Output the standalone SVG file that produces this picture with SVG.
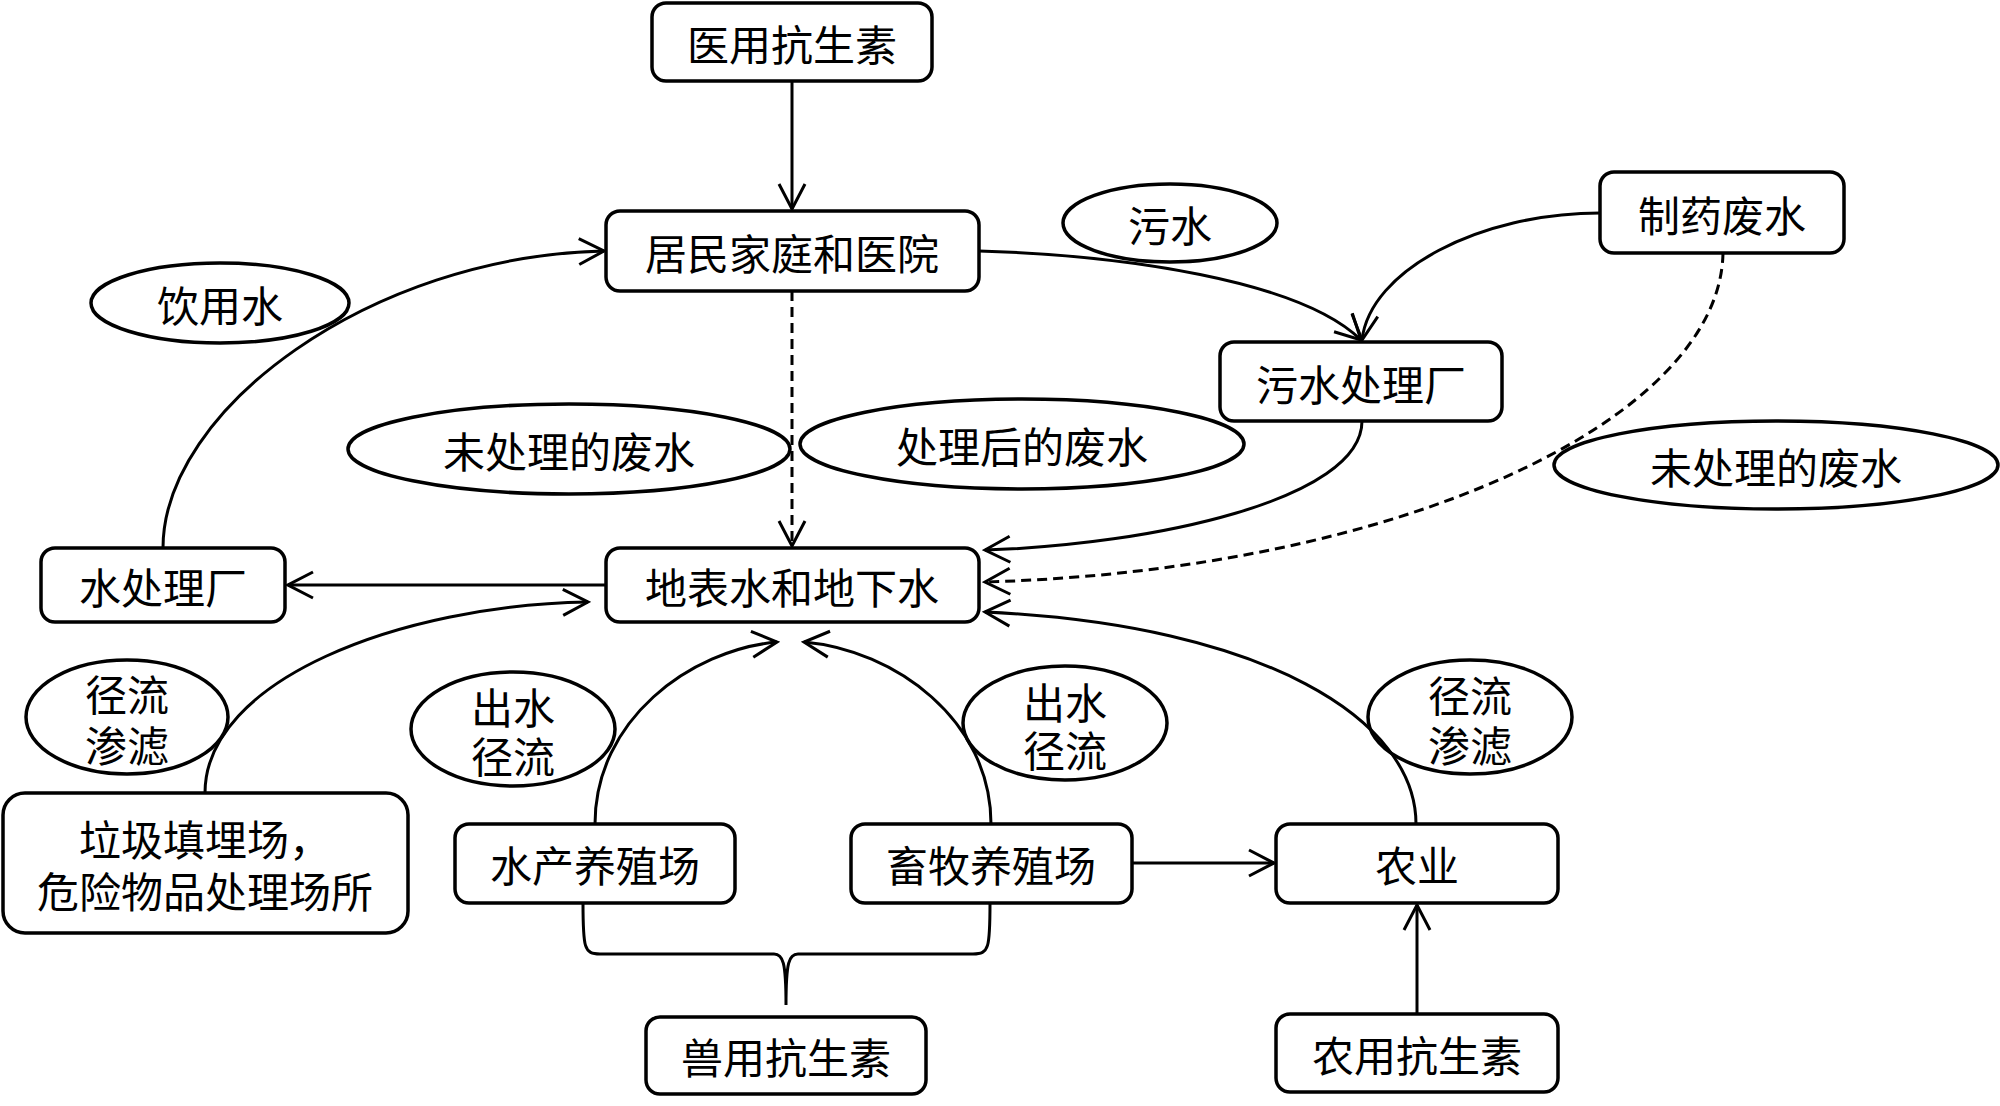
<svg xmlns="http://www.w3.org/2000/svg" width="2000" height="1106" viewBox="0 0 2000 1106">
<style>
.box{fill:#fff;stroke:#000;stroke-width:3.5}
.ell{fill:#fff;stroke:#000;stroke-width:3.5}
.t{font-family:"Noto Sans CJK SC","Noto Sans CJK JP",sans-serif;font-size:42px;fill:#000;text-anchor:middle;dominant-baseline:central}
.c{fill:none;stroke:#000;stroke-width:3}
.d{fill:none;stroke:#000;stroke-width:3;stroke-dasharray:10 6}
</style>
<defs>
<marker id="a" markerUnits="userSpaceOnUse" markerWidth="32" markerHeight="32" viewBox="0 0 32 32" refX="29" refY="16" orient="auto">
<path d="M4,3 L29,16 L4,29" fill="none" stroke="#000" stroke-width="3"/>
</marker>
</defs>
<rect width="2000" height="1106" fill="#fff"/>
<g id="labels">
<g id="lbl-drink"><ellipse class="ell" cx="220" cy="303" rx="129" ry="40"/><text class="t" x="220" y="303">饮用水</text></g>
<g id="lbl-untreated-left"><ellipse class="ell" cx="569" cy="449" rx="221" ry="45"/><text class="t" x="569" y="449">未处理的废水</text></g>
<g id="lbl-treated"><ellipse class="ell" cx="1022" cy="444" rx="222" ry="45"/><text class="t" x="1022" y="444">处理后的废水</text></g>
<g id="lbl-sewage"><ellipse class="ell" cx="1170" cy="223" rx="107" ry="39"/><text class="t" x="1170" y="223">污水</text></g>
<g id="lbl-untreated-right"><ellipse class="ell" cx="1776" cy="465" rx="222" ry="44"/><text class="t" x="1776" y="465">未处理的废水</text></g>
<g id="lbl-runoff-left"><ellipse class="ell" cx="127" cy="717" rx="101" ry="57"/><text class="t"><tspan x="127" y="692">径流</tspan><tspan x="127" y="743">渗滤</tspan></text></g>
<g id="lbl-outflow-left"><ellipse class="ell" cx="513" cy="729" rx="102" ry="57"/><text class="t"><tspan x="513" y="705">出水</tspan><tspan x="513" y="754">径流</tspan></text></g>
<g id="lbl-outflow-right"><ellipse class="ell" cx="1065" cy="723" rx="102" ry="57"/><text class="t"><tspan x="1065" y="700">出水</tspan><tspan x="1065" y="748">径流</tspan></text></g>
<g id="lbl-runoff-right"><ellipse class="ell" cx="1470" cy="717" rx="102" ry="57"/><text class="t"><tspan x="1470" y="693">径流</tspan><tspan x="1470" y="743">渗滤</tspan></text></g>
</g>
<g id="connectors">
<path class="c" d="M792,81 L792,209" marker-end="url(#a)"/>
<path class="d" d="M792,291 L792,546" marker-end="url(#a)"/>
<path class="c" d="M606,585 L288,585" marker-end="url(#a)"/>
<path class="c" d="M163,548 C163,410 370,256 604,251" marker-end="url(#a)"/>
<path class="c" d="M979,251 C1120,255 1300,280 1361,340" marker-end="url(#a)"/>
<path class="c" d="M1600,213 C1480,213 1370,270 1362,340" marker-end="url(#a)"/>
<path class="d" d="M1723,253 C1720,420 1400,570 985,582" marker-end="url(#a)"/>
<path class="c" d="M1362,421 C1362,500 1150,545 985,550" marker-end="url(#a)"/>
<path class="c" d="M1416,824 C1416,720 1265,625 985,612" marker-end="url(#a)"/>
<path class="c" d="M205,793 C205,680 400,605 588,602" marker-end="url(#a)"/>
<path class="c" d="M595,824 C595,720 690,650 777,642" marker-end="url(#a)"/>
<path class="c" d="M991,824 C991,720 895,650 804,642" marker-end="url(#a)"/>
<path class="c" d="M1132,863 L1274,863" marker-end="url(#a)"/>
<path class="c" d="M1417,1014 L1417,905" marker-end="url(#a)"/>
<path class="c" d="M583,903 C583,948 584,954 600,954 L774,954 C783,954 786,962 786,1005 M990,903 C990,948 989,954 973,954 L798,954 C789,954 786,962 786,1005"/>
</g>
<g id="n-med"><rect class="box" x="652" y="3" width="280" height="78" rx="14"/><text class="t" x="792" y="42">医用抗生素</text></g>
<g id="n-home"><rect class="box" x="606" y="211" width="373" height="80" rx="14"/><text class="t" x="792" y="251">居民家庭和医院</text></g>
<g id="n-pharma"><rect class="box" x="1600" y="172" width="244" height="81" rx="14"/><text class="t" x="1722" y="213">制药废水</text></g>
<g id="n-swtp"><rect class="box" x="1220" y="342" width="282" height="79" rx="14"/><text class="t" x="1361" y="382">污水处理厂</text></g>
<g id="n-wtp"><rect class="box" x="41" y="548" width="244" height="74" rx="14"/><text class="t" x="163" y="585">水处理厂</text></g>
<g id="n-water"><rect class="box" x="606" y="548" width="373" height="74" rx="14"/><text class="t" x="792" y="585">地表水和地下水</text></g>
<g id="n-landfill"><rect class="box" x="3" y="793" width="405" height="140" rx="22"/><text class="t"><tspan x="205" y="837">垃圾填埋场，</tspan><tspan x="205" y="889">危险物品处理场所</tspan></text></g>
<g id="n-aqua"><rect class="box" x="455" y="824" width="280" height="79" rx="14"/><text class="t" x="595" y="863">水产养殖场</text></g>
<g id="n-live"><rect class="box" x="851" y="824" width="281" height="79" rx="14"/><text class="t" x="991" y="863">畜牧养殖场</text></g>
<g id="n-agri"><rect class="box" x="1276" y="824" width="282" height="79" rx="14"/><text class="t" x="1417" y="863">农业</text></g>
<g id="n-vet"><rect class="box" x="646" y="1017" width="280" height="77" rx="14"/><text class="t" x="786" y="1055">兽用抗生素</text></g>
<g id="n-agab"><rect class="box" x="1276" y="1014" width="282" height="78" rx="14"/><text class="t" x="1417" y="1053">农用抗生素</text></g>
</svg>
